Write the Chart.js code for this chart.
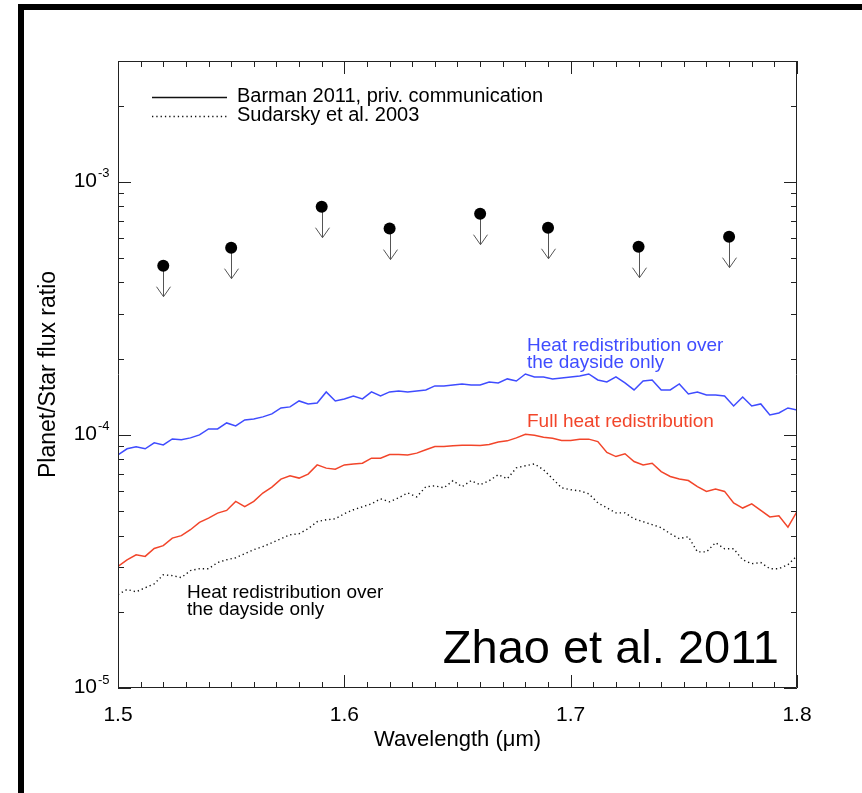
<!DOCTYPE html>
<html>
<head>
<meta charset="utf-8">
<title>Planet/Star flux ratio</title>
<script src="https://cdn.jsdelivr.net/npm/chart.js@4.4.1/dist/chart.umd.min.js"></script>
<style>
  html, body { margin: 0; padding: 0; background: #fff; }
  #wrap { position: relative; width: 862px; height: 793px; overflow: hidden; }
  #frameLeft { position: absolute; left: 18px; top: 4px; width: 6px; height: 789px; background: #000; }
  #frameTop { position: absolute; left: 18px; top: 4px; width: 844px; height: 6px; background: #000; }
</style>
</head>
<body>
<div id="wrap">
  <canvas id="chart" width="862" height="793"></canvas>
  <div id="frameLeft"></div>
  <div id="frameTop"></div>
</div>
<script>
// wavelength grid of the model spectra (micron)
const wavelength = [
  1.500, 1.504, 1.508, 1.512, 1.516, 1.520, 1.524, 1.528, 1.532, 1.536,
  1.540, 1.544, 1.548, 1.552, 1.556, 1.560, 1.564, 1.568, 1.572, 1.576,
  1.580, 1.584, 1.588, 1.592, 1.596, 1.600, 1.604, 1.608, 1.612, 1.616,
  1.620, 1.624, 1.628, 1.632, 1.636, 1.640, 1.644, 1.648, 1.652, 1.656,
  1.660, 1.664, 1.668, 1.672, 1.676, 1.680, 1.684, 1.688, 1.692, 1.696,
  1.700, 1.704, 1.708, 1.712, 1.716, 1.720, 1.724, 1.728, 1.732, 1.736,
  1.740, 1.744, 1.748, 1.752, 1.756, 1.760, 1.764, 1.768, 1.772, 1.776,
  1.780, 1.784, 1.788, 1.792, 1.796, 1.800
];

// Barman 2011, heat redistribution over the dayside only (blue)
const barmanDayside = [
  8.34e-5, 8.81e-5, 8.97e-5, 8.81e-5, 9.30e-5, 9.13e-5, 9.64e-5, 9.56e-5, 9.73e-5, 1.000e-4,
  1.056e-4, 1.056e-4, 1.115e-4, 1.085e-4, 1.146e-4, 1.156e-4, 1.178e-4, 1.210e-4, 1.278e-4, 1.290e-4,
  1.362e-4, 1.325e-4, 1.337e-4, 1.478e-4, 1.362e-4, 1.387e-4, 1.425e-4, 1.387e-4, 1.478e-4, 1.425e-4,
  1.478e-4, 1.492e-4, 1.478e-4, 1.492e-4, 1.505e-4, 1.561e-4, 1.561e-4, 1.575e-4, 1.589e-4, 1.575e-4,
  1.575e-4, 1.618e-4, 1.604e-4, 1.664e-4, 1.633e-4, 1.740e-4, 1.694e-4, 1.694e-4, 1.664e-4, 1.679e-4,
  1.694e-4, 1.709e-4, 1.740e-4, 1.648e-4, 1.618e-4, 1.694e-4, 1.604e-4, 1.505e-4, 1.633e-4, 1.648e-4,
  1.505e-4, 1.505e-4, 1.589e-4, 1.451e-4, 1.478e-4, 1.438e-4, 1.438e-4, 1.425e-4, 1.301e-4, 1.412e-4,
  1.301e-4, 1.325e-4, 1.199e-4, 1.221e-4, 1.278e-4, 1.255e-4
];

// Barman 2011, full heat redistribution (red)
const barmanFull = [
  3.02e-5, 3.21e-5, 3.36e-5, 3.31e-5, 3.56e-5, 3.65e-5, 3.91e-5, 4.00e-5, 4.22e-5, 4.51e-5,
  4.69e-5, 4.91e-5, 5.03e-5, 5.46e-5, 5.21e-5, 5.46e-5, 5.89e-5, 6.22e-5, 6.69e-5, 6.89e-5,
  6.75e-5, 7.00e-5, 7.61e-5, 7.39e-5, 7.32e-5, 7.61e-5, 7.68e-5, 7.73e-5, 8.09e-5, 8.09e-5,
  8.36e-5, 8.36e-5, 8.32e-5, 8.47e-5, 8.73e-5, 8.99e-5, 8.99e-5, 9.05e-5, 9.11e-5, 9.11e-5,
  9.07e-5, 9.16e-5, 9.38e-5, 9.47e-5, 9.73e-5, 1.006e-4, 9.97e-5, 9.79e-5, 9.70e-5, 9.50e-5,
  9.50e-5, 9.62e-5, 9.62e-5, 9.41e-5, 8.52e-5, 8.21e-5, 8.42e-5, 7.85e-5, 7.61e-5, 7.73e-5,
  7.16e-5, 6.85e-5, 6.69e-5, 6.60e-5, 6.25e-5, 5.98e-5, 6.11e-5, 5.98e-5, 5.38e-5, 5.14e-5,
  5.34e-5, 5.03e-5, 4.74e-5, 4.79e-5, 4.32e-5, 4.98e-5
];

// Sudarsky et al. 2003, heat redistribution over the dayside only (dotted)
const sudarskyDayside = [
  2.34e-5, 2.45e-5, 2.40e-5, 2.49e-5, 2.58e-5, 2.80e-5, 2.78e-5, 2.73e-5, 2.91e-5, 2.96e-5,
  2.96e-5, 3.13e-5, 3.21e-5, 3.27e-5, 3.39e-5, 3.52e-5, 3.62e-5, 3.75e-5, 3.89e-5, 4.03e-5,
  4.07e-5, 4.26e-5, 4.54e-5, 4.62e-5, 4.66e-5, 4.88e-5, 5.06e-5, 5.20e-5, 5.34e-5, 5.59e-5,
  5.44e-5, 5.64e-5, 5.90e-5, 5.69e-5, 6.24e-5, 6.29e-5, 6.18e-5, 6.59e-5, 6.24e-5, 6.59e-5,
  6.35e-5, 6.59e-5, 6.96e-5, 6.71e-5, 7.41e-5, 7.55e-5, 7.68e-5, 7.28e-5, 6.71e-5, 6.18e-5,
  6.07e-5, 6.01e-5, 5.85e-5, 5.39e-5, 5.15e-5, 4.92e-5, 4.92e-5, 4.66e-5, 4.54e-5, 4.42e-5,
  4.30e-5, 4.07e-5, 3.89e-5, 3.96e-5, 3.45e-5, 3.45e-5, 3.75e-5, 3.55e-5, 3.55e-5, 3.21e-5,
  3.10e-5, 3.13e-5, 2.96e-5, 2.96e-5, 3.07e-5, 3.33e-5
];

// upper limits (filled circles with down arrows)
const limitWavelength = [1.52, 1.55, 1.59, 1.62, 1.66, 1.69, 1.73, 1.77];
const limitFlux = [4.66e-4, 5.49e-4, 7.97e-4, 6.53e-4, 7.48e-4, 6.58e-4, 5.54e-4, 6.07e-4];

const xTickLabels = ['1.5', '1.6', '1.7', '1.8'];
const yDecades = [-5, -4, -3];

const FONT = "'Liberation Sans', Arial, Helvetica, sans-serif";
const BLUE = '#3f4cff';
const RED = '#f2452a';
const DOT = [1.3, 3];

const toPoints = (xs, ys) => xs.map((x, i) => ({ x: x, y: ys[i] }));
const isWhole = v => Math.abs(v - Math.round(v)) < 1e-6;

// box, inward tick marks and the 10^n labels
const framePlugin = {
    id: 'frame',
    afterDatasetsDraw(chart) {
        const { ctx, chartArea: a, scales: { x, y } } = chart;
        ctx.save();
        ctx.strokeStyle = '#222';
        ctx.lineWidth = 1;
        ctx.beginPath();
        ctx.rect(a.left + 0.5, a.top + 0.5, a.right - a.left - 1, a.bottom - a.top - 1);

        x.ticks.forEach(t => {
            const px = Math.round(x.getPixelForValue(t.value)) + 0.5;
            const len = isWhole(t.value * 10) ? 13 : 6;
            ctx.moveTo(px, a.bottom); ctx.lineTo(px, a.bottom - len);
            ctx.moveTo(px, a.top); ctx.lineTo(px, a.top + len);
        });

        y.ticks.forEach(t => {
            const e = Math.floor(Math.log10(t.value) + 1e-9);
            const m = t.value / Math.pow(10, e);
            if (!isWhole(m)) return;
            const py = Math.round(y.getPixelForValue(t.value)) + 0.5;
            const len = Math.round(m) === 1 ? 13 : 6;
            ctx.moveTo(a.left, py); ctx.lineTo(a.left + len, py);
            ctx.moveTo(a.right, py); ctx.lineTo(a.right - len, py);
        });
        ctx.stroke();

        ctx.fillStyle = '#000';
        yDecades.forEach(e => {
            const py = y.getPixelForValue(Math.pow(10, e));
            ctx.font = `21px ${FONT}`;
            ctx.textAlign = 'right';
            ctx.textBaseline = 'middle';
            ctx.fillText('10', a.left - 21, py - 1);
            ctx.font = `13px ${FONT}`;
            ctx.textAlign = 'left';
            ctx.fillText('-' + Math.abs(e), a.left - 20, py - 8);
        });
        ctx.restore();
    }
};

// down arrows under the upper-limit circles
const arrowPlugin = {
    id: 'arrows',
    beforeDatasetDraw(chart, args) {
        if (args.index !== 3) return;
        const ctx = chart.ctx;
        ctx.save();
        ctx.strokeStyle = '#555';
        ctx.lineWidth = 1;
        ctx.beginPath();
        chart.getDatasetMeta(3).data.forEach(pt => {
            const px = Math.round(pt.x) + 0.5;
            const py = pt.y;
            ctx.moveTo(px, py);
            ctx.lineTo(px, py + 31);
            ctx.moveTo(px - 7, py + 21);
            ctx.lineTo(px, py + 31);
            ctx.lineTo(px + 7, py + 21);
        });
        ctx.stroke();
        ctx.restore();
    }
};

// legend and text labels
const labelPlugin = {
    id: 'labels',
    afterDraw(chart) {
        const { ctx, chartArea: a } = chart;
        ctx.save();
        ctx.textAlign = 'left';
        ctx.textBaseline = 'alphabetic';

        ctx.strokeStyle = '#111';
        ctx.lineWidth = 1.3;
        ctx.beginPath();
        ctx.moveTo(a.left + 34, a.top + 36.5); ctx.lineTo(a.left + 109, a.top + 36.5);
        ctx.stroke();
        ctx.setLineDash(DOT);
        ctx.beginPath();
        ctx.moveTo(a.left + 34, a.top + 55.5); ctx.lineTo(a.left + 109, a.top + 55.5);
        ctx.stroke();
        ctx.setLineDash([]);

        ctx.fillStyle = '#000';
        ctx.font = `20px ${FONT}`;
        ctx.fillText('Barman 2011, priv. communication', a.left + 119, a.top + 41);
        ctx.fillText('Sudarsky et al. 2003', a.left + 119, a.top + 60);

        ctx.font = `19px ${FONT}`;
        ctx.fillStyle = BLUE;
        ctx.fillText('Heat redistribution over', a.left + 409, a.top + 290);
        ctx.fillText('the dayside only', a.left + 409, a.top + 307);
        ctx.fillStyle = RED;
        ctx.fillText('Full heat redistribution', a.left + 409, a.top + 366);
        ctx.fillStyle = '#000';
        ctx.fillText('Heat redistribution over', a.left + 69, a.top + 537);
        ctx.fillText('the dayside only', a.left + 69, a.top + 554);

        ctx.font = `47px ${FONT}`;
        ctx.textAlign = 'right';
        ctx.fillText('Zhao et al. 2011', a.left + 661, a.top + 602);
        ctx.restore();
    }
};

new Chart(document.getElementById('chart'), {
    type: 'line',
    data: {
        datasets: [
            {
                label: 'Barman 2011, dayside only',
                data: toPoints(wavelength, barmanDayside),
                borderColor: BLUE,
                borderWidth: 1.5,
                pointRadius: 0,
                tension: 0
            },
            {
                label: 'Barman 2011, full redistribution',
                data: toPoints(wavelength, barmanFull),
                borderColor: RED,
                borderWidth: 1.5,
                pointRadius: 0,
                tension: 0
            },
            {
                label: 'Sudarsky et al. 2003, dayside only',
                data: toPoints(wavelength, sudarskyDayside),
                borderColor: '#111',
                borderWidth: 1.4,
                borderDash: DOT,
                pointRadius: 0,
                tension: 0
            },
            {
                label: 'Upper limits',
                data: toPoints(limitWavelength, limitFlux),
                showLine: false,
                pointRadius: 6,
                pointBackgroundColor: '#000',
                pointBorderColor: '#000',
                pointBorderWidth: 0
            }
        ]
    },
    options: {
        responsive: false,
        animation: false,
        devicePixelRatio: 1,
        layout: { padding: { top: 61, right: 65, left: 0, bottom: 0 } },
        plugins: {
            legend: { display: false },
            tooltip: { enabled: false }
        },
        scales: {
            x: {
                type: 'linear',
                min: 1.5,
                max: 1.8,
                afterFit: s => { s.height = 105; },
                grid: { display: false, drawTicks: false },
                border: { display: false },
                ticks: {
                    stepSize: 0.01,
                    autoSkip: false,
                    maxRotation: 0,
                    padding: 15,
                    color: '#000',
                    font: { family: FONT, size: 21 },
                    callback: v => isWhole(v * 10) ? xTickLabels[Math.round(v * 10) - 15] : ''
                },
                title: {
                    display: true,
                    text: 'Wavelength (μm)',
                    color: '#000',
                    font: { family: FONT, size: 22 },
                    padding: { top: 0, bottom: 40 }
                }
            },
            y: {
                type: 'logarithmic',
                min: 1e-5,
                max: 3e-3,
                afterFit: s => { s.width = 118; },
                grid: { display: false, drawTicks: false },
                border: { display: false },
                ticks: { display: false },
                title: {
                    display: true,
                    text: 'Planet/Star flux ratio',
                    color: '#000',
                    font: { family: FONT, size: 23 },
                    padding: { top: 35, bottom: 0 }
                }
            }
        }
    },
    plugins: [arrowPlugin, framePlugin, labelPlugin]
});
</script>
</body>
</html>
